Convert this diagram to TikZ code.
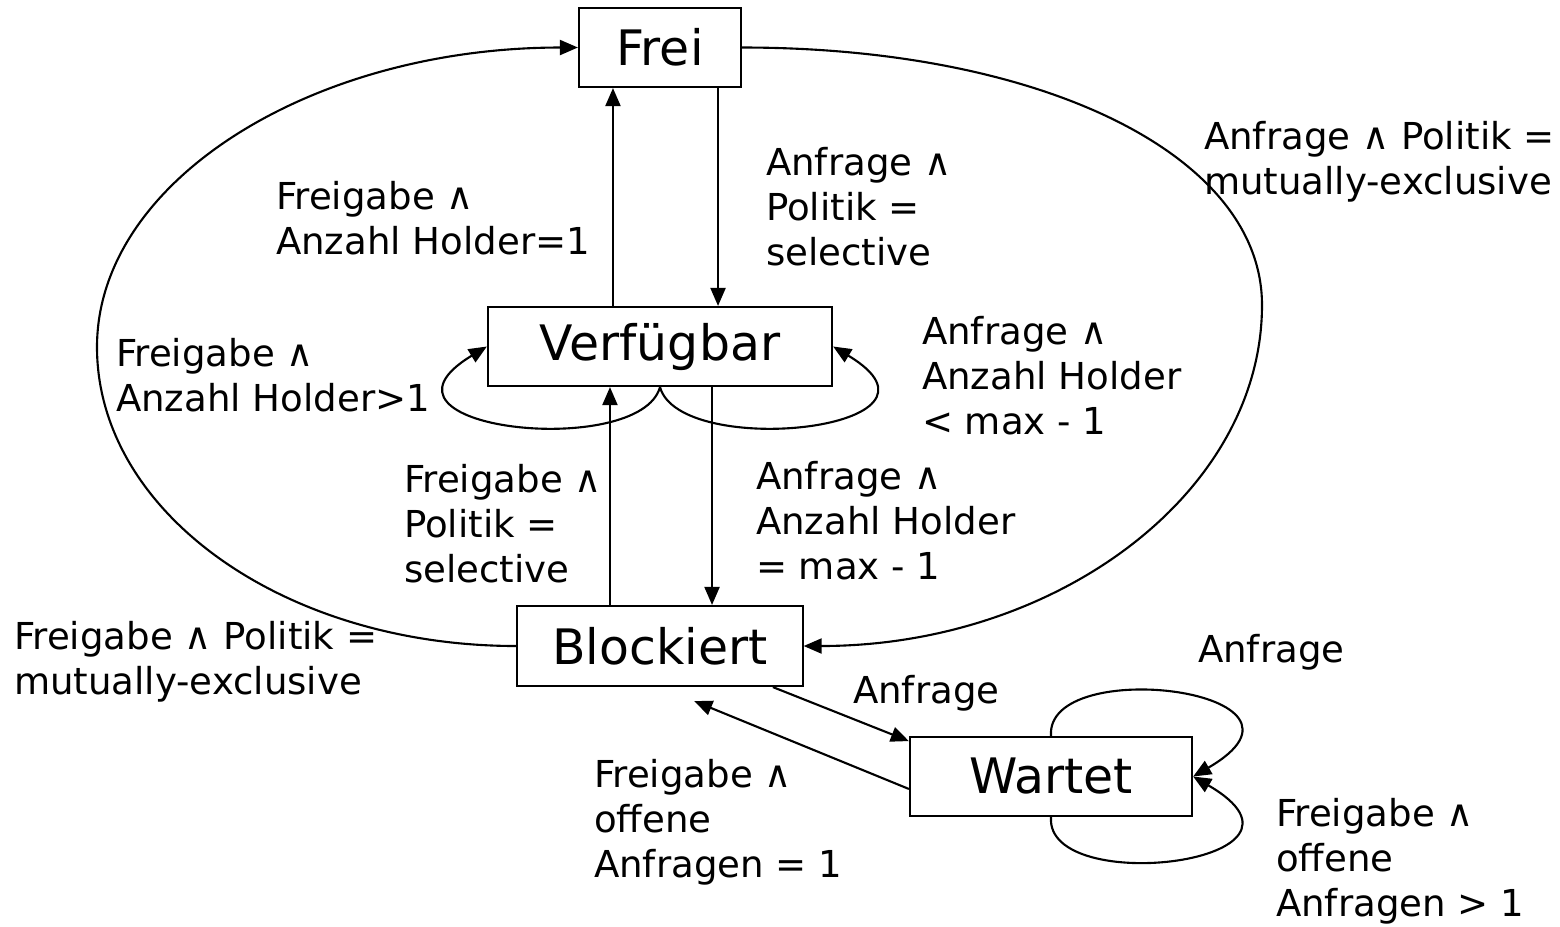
\documentclass[tikz,border=0pt]{standalone}
\usepackage{fontspec}
\setmainfont{DejaVu Sans}
\usetikzlibrary{arrows.meta}
\tikzset{
  statebox/.style={draw,line width=0.6pt,inner sep=0pt,font=\fontsize{13.9}{16}\selectfont},
  cond/.style={anchor=west,align=left,inner sep=0pt,font=\fontsize{10.55}{12.8}\selectfont},
}
\begin{document}
\begin{tikzpicture}[x=0.01cm,y=-0.01cm,line width=0.6pt,>={Triangle[length=0.18cm,width=0.15cm]}]
\useasboundingbox (0,0) rectangle (1560,926);

\node[statebox,minimum width=1.62cm,minimum height=0.79cm] (frei) at (660,47.5) {Frei};
\node[statebox,minimum width=3.44cm,minimum height=0.79cm] (verf) at (660,346.5) {Verfügbar};
\node[statebox,minimum width=2.85cm,minimum height=0.8cm] (block) at (660,646) {Blockiert};
\node[statebox,minimum width=2.82cm,minimum height=0.79cm] (wartet) at (1051,776.5) {Wartet};

\coordinate (eL) at (97,347);
\coordinate (eR) at (1262,305);

\draw[->] ([xshift=-0.47cm]verf.north) -- ([xshift=-0.47cm]frei.south);
\draw[->] ([xshift=0.58cm]frei.south) -- ([xshift=0.58cm]verf.north);
\draw[->] ([xshift=-0.5cm]block.north) -- ([xshift=-0.5cm]verf.south);
\draw[->] ([xshift=0.52cm]verf.south) -- ([xshift=0.52cm]block.north);

\draw[->] (block.west) .. controls +(-233,0) and +(0,165) .. (eL)
  .. controls +(0,-166) and +(-266,0) .. (frei.west);
\draw[->] (frei.east) .. controls +(300,0) and +(0,-150) .. (eR)
  .. controls +(0,188) and +(253,0) .. (block.east);

\draw[->] (verf.south) .. controls +(-20,73) and +(-137,83) .. (verf.west);
\draw[->] (verf.south) .. controls +(20,73) and +(138,83) .. (verf.east);

\draw[->] (block.-20.5) -- (wartet.166.6);
\draw[->,shorten >=0.37cm] (wartet.-175.3) -- (block.south);

\draw[->] (wartet.north) .. controls +(-6,-82) and +(148,-86) .. (wartet.east);
\draw[->] (wartet.south) .. controls +(-6,81) and +(148,86) .. (wartet.east);

\node[cond] (c1) at (275,218) {Freigabe ∧\\Anzahl Holder=1};
\node[cond] (c2) at (765,207) {Anfrage ∧\\Politik =\\selective};
\node[cond] (c3) at (1203,162) {Anfrage ∧ Politik =\\mutually-exclusive};
\node[cond] (c4) at (115,375) {Freigabe ∧\\Anzahl Holder>1};
\node[cond] (c5) at (921,376) {Anfrage ∧\\Anzahl Holder\\< max - 1};
\node[cond] (c6) at (403,524) {Freigabe ∧\\Politik =\\selective};
\node[cond] (c7) at (755,521) {Anfrage ∧\\Anzahl Holder\\= max - 1};
\node[cond] (c8) at (13,662) {Freigabe ∧ Politik =\\mutually-exclusive};
\node[cond] (c9) at (852,693) {Anfrage};
\node[cond] (c10) at (1197,652) {Anfrage};
\node[cond] (c11) at (593,822) {Freigabe ∧\\offene\\Anfragen = 1};
\node[cond] (c12) at (1275,861) {Freigabe ∧\\offene\\Anfragen > 1};
\end{tikzpicture}
\end{document}
